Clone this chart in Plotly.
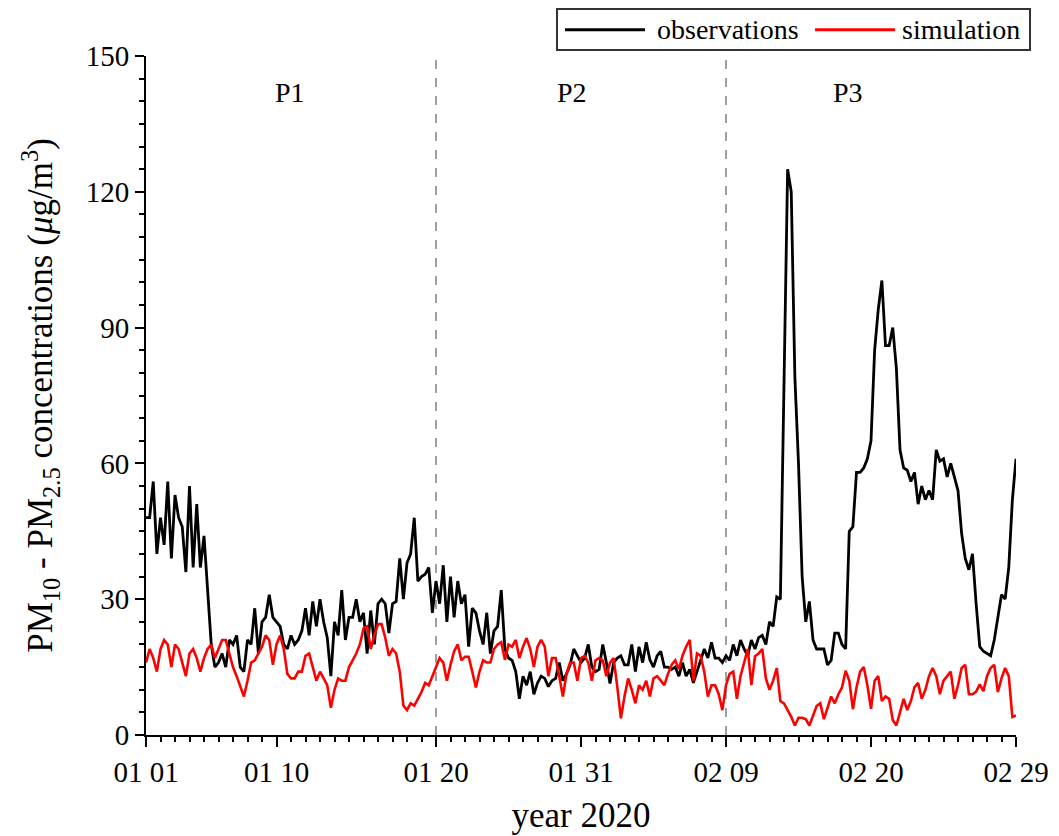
import numpy as np
import plotly.graph_objects as go

# 6-hourly samples starting 2020-01-01 00:00 (x in days since Jan 1)
observations = [
    48, 48, 56, 40, 48, 42, 56, 39, 53, 48, 46, 36, 55, 37, 51, 37, 44, 33, 20, 15,
    16, 18, 15, 21, 20, 22, 15, 14, 21, 20, 28, 18, 25, 26, 31, 26, 25, 24, 20, 19,
    22,
    20, 21, 23, 28, 22, 29.5, 24, 30, 25, 21.5, 13, 25, 22, 32, 21, 26, 26, 30, 25, 27,
    18, 27.5, 20, 29, 30, 29, 22.5, 29, 29.5, 39, 30, 38, 40, 48, 34, 35, 35.5, 37, 27, 34,
    29, 37.5, 25, 35, 26, 34, 29, 31, 19.5, 28, 27, 23, 20, 27, 18, 23, 24, 32, 19, 17,
    16.5, 14, 8, 13, 11, 14, 9, 11.5, 13, 12.5, 10.7, 12, 12.5, 16, 12, 13.5, 15.5, 19, 17.5, 16,
    17, 20, 15, 14, 14.5, 20, 16, 11.4, 16, 17, 17.5, 15.5, 15.5, 20, 14, 19.5, 16, 20.5, 16.6, 15,
    17.5, 18.5, 15, 15, 14.5, 15, 13, 16, 13, 14.5, 11.5, 14, 17, 19, 17, 20.5, 17, 17, 16, 17.5,
    16.5, 20, 17.5, 21, 19, 17.5, 21, 19, 21.5, 22, 20, 25, 24, 30.5, 30, 80, 125, 120, 79, 60,
    35, 25, 29.5, 21, 19, 19, 19, 15.5, 16.5, 22.5, 22.5, 20, 19, 45, 46, 58, 58, 59, 61, 65,
    85, 94, 100.4, 86, 86, 90, 81, 63, 59, 58.5, 56, 58, 51, 55, 52, 54, 52, 63, 60.5, 61,
    57, 60, 57, 54, 44.5, 39, 36.5, 40, 29, 19.5, 18.5, 18, 17.5, 21, 26, 31, 30, 37, 52, 61,
]

simulation = [
    16, 19, 17, 14, 19, 21, 20, 15, 20, 19, 16, 13, 18, 19, 17, 14, 17, 19, 20, 17,
    19, 21, 21, 18, 15, 13, 10.5, 8.5, 12, 16, 16.5, 18, 19.5, 22, 21, 15.5, 20, 22, 19, 13.5,
    12.5,
    12.5, 14, 14, 17.5, 18, 15, 12, 14, 12.5, 11, 6, 10, 12.5, 12, 12, 15, 16.5, 18, 20, 23.5,
    24, 19, 22, 24.5, 24.5, 21.5, 17.5, 19, 18, 14, 6.5, 5.5, 7, 6.5, 8, 9.5, 11.5, 11, 13, 15,
    17, 16, 12, 15.5, 18.5, 20, 16.5, 17.3, 17.3, 14, 10.5, 14, 16.5, 16, 16, 19, 20, 20.5, 16.6, 20,
    19.5, 21, 17, 19.5, 21.4, 19, 15, 19.5, 21, 19.5, 13, 17, 17, 13, 8.5, 13.5, 16, 16, 12, 17,
    17.5, 16, 12, 16.5, 17, 16.5, 13, 16, 17, 10.7, 3.7, 8.5, 12.5, 10, 7, 11, 10, 12, 8.5, 12.5,
    13, 12, 11, 13.5, 15.5, 16.5, 14.5, 17.5, 19.5, 21, 12, 18, 17.5, 14, 8.5, 11, 11, 9, 5.5, 11,
    13.5, 14, 8, 13, 16, 19, 11, 17.4, 18, 19, 12.5, 10, 12, 14.8, 7.5, 7, 5.5, 4, 2.1, 3.8,
    3.8, 3.5, 2.1, 4.5, 6.4, 7, 3.5, 6, 8.5, 7, 9, 10.5, 14.2, 12, 5.7, 10.5, 14, 15, 11, 5.8,
    12, 13, 7.5, 8.5, 8, 3.3, 2.1, 5, 8, 5.5, 7.5, 10.6, 11.5, 8, 10, 13, 14.8, 13, 9, 12,
    13, 14, 8, 11, 14.8, 15.5, 9, 9, 9.6, 11.2, 9.7, 13, 14.8, 15.5, 9.5, 12.5, 14.8, 13, 4, 4.3,
]

step_days = 0.25
days = np.arange(len(observations)) * step_days

tick_days = [0, 9, 20, 30, 40, 50, 60]
tick_labels = ["01 01", "01 10", "01 20", "01 31", "02 09", "02 20", "02 29"]

period_bounds = [20, 40]
period_labels = ["P1", "P2", "P3"]
period_label_x = [9.9, 29.4, 48.4]
period_label_y = 142

series_names = ["observations", "simulation"]
series_colors = ["black", "#ff0000"]

FONT = "Liberation Serif"

fig = go.Figure()
fig.add_trace(go.Scatter(x=days, y=observations, mode="lines", name=series_names[0],
                         line=dict(color=series_colors[0], width=2.8), showlegend=False))
fig.add_trace(go.Scatter(x=days, y=simulation, mode="lines", name=series_names[1],
                         line=dict(color=series_colors[1], width=2.6), showlegend=False))

for b in period_bounds:
    fig.add_shape(type="line", x0=b, x1=b, y0=0, y1=150, xref="x", yref="y",
                  line=dict(color="#808080", width=1.5, dash="dash"), layer="below")

for lab, xx in zip(period_labels, period_label_x):
    fig.add_annotation(x=xx, y=period_label_y, text=lab, showarrow=False,
                       font=dict(family=FONT, size=28, color="black"))

# custom legend box (paper coordinates) above the top-right of the plot
fig.add_shape(type="rect", xref="paper", yref="paper", x0=0.4724, x1=1.0161,
              y0=1.0088, y1=1.0692, line=dict(color="#333333", width=2), fillcolor="white")
legend_line_x = [(0.4816, 0.5736), (0.7690, 0.8609)]
legend_text_x = [0.5851, 0.8667]
legend_y = 1.0385
for name, col, (lx0, lx1), tx in zip(series_names, series_colors, legend_line_x, legend_text_x):
    fig.add_shape(type="line", xref="paper", yref="paper", x0=lx0, x1=lx1,
                  y0=legend_y, y1=legend_y, line=dict(color=col, width=3))
    fig.add_annotation(xref="paper", yref="paper", x=tx, y=legend_y, text=name,
                       showarrow=False, xanchor="left", yanchor="middle",
                       font=dict(family=FONT, size=28, color="black"))

fig.update_xaxes(
    range=[0, 60], tickmode="array", tickvals=tick_days, ticktext=tick_labels,
    showline=True, linecolor="black", linewidth=2, mirror=False,
    ticks="outside", ticklen=10, tickwidth=2, tickcolor="black",
    minor=dict(tickmode="linear", tick0=0, dtick=1, ticks="outside", ticklen=5,
               tickwidth=2, tickcolor="black"),
    showgrid=False, zeroline=False,
    tickfont=dict(family=FONT, size=29, color="black"),
    title=dict(text="year 2020", font=dict(family=FONT, size=35, color="black"), standoff=16),
)
fig.update_yaxes(
    range=[0, 150], tickmode="linear", tick0=0, dtick=30,
    showline=True, linecolor="black", linewidth=2, mirror=False,
    ticks="outside", ticklen=9, tickwidth=2, tickcolor="black",
    minor=dict(tickmode="linear", tick0=0, dtick=5, ticks="outside", ticklen=5,
               tickwidth=2, tickcolor="black"),
    showgrid=False, zeroline=False,
    tickfont=dict(family=FONT, size=29, color="black"),
    title=dict(text="PM<sub>10</sub> - PM<sub>2.5</sub> concentrations (<i>μ</i>g/m<sup>3</sup>)",
               font=dict(family=FONT, size=35, color="black"), standoff=22),
)

fig.update_layout(
    width=1059, height=836,
    margin=dict(l=146, r=43, t=56, b=101, autoexpand=False),
    plot_bgcolor="white", paper_bgcolor="white",
    font=dict(family=FONT, size=28, color="black"),
    showlegend=False,
)

fig.write_html("out.html")
